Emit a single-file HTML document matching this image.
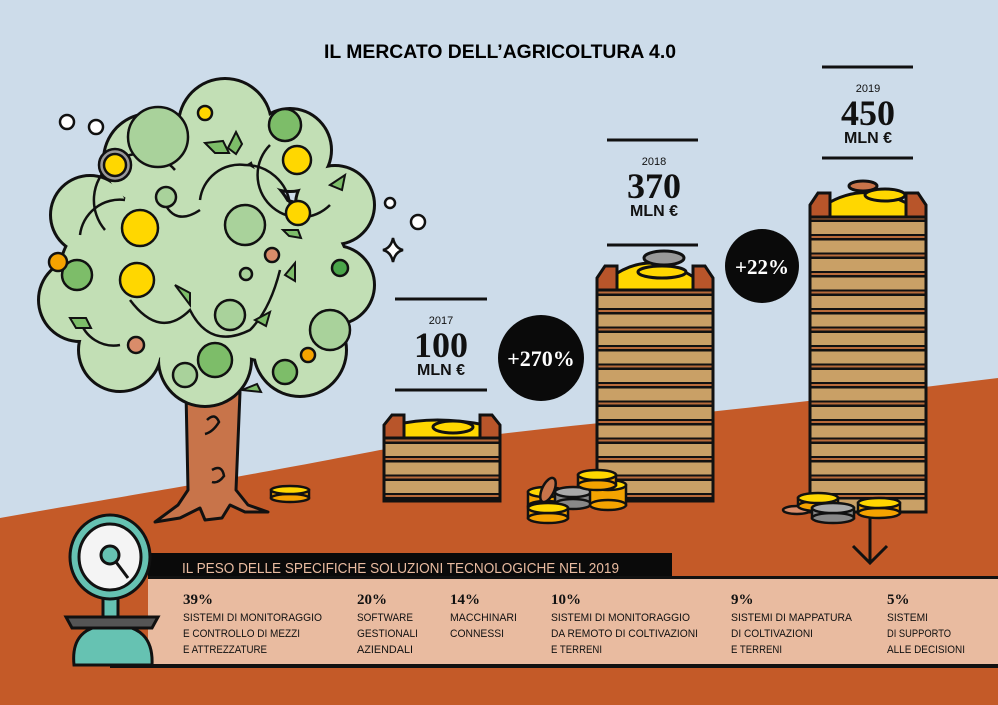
<!DOCTYPE html>
<html><head><meta charset="utf-8"><style>
html,body{margin:0;padding:0;background:#cddcea;}
svg{display:block}
text{font-family:"Liberation Sans",sans-serif}
.serif{font-family:"Liberation Serif",serif;font-weight:bold}
</style></head><body>
<svg width="998" height="705" viewBox="0 0 998 705" xmlns="http://www.w3.org/2000/svg">
<defs>
<pattern id="slat" x="0" y="0" width="20" height="18.5" patternUnits="userSpaceOnUse">
<rect width="20" height="18.5" fill="#111"/>
<rect y="0" width="20" height="12" fill="#c9a066"/>
<rect y="14" width="20" height="2" fill="#b86a3a"/>
</pattern>
</defs>
<rect width="998" height="705" fill="#cddcea"/>
<path d="M0,518 C100,500 200,485 380,450 C500,432 600,423 700,413 C820,400 900,390 998,378 L998,705 L0,705 Z" fill="#c45a28"/>

<text x="500" y="58" text-anchor="middle" font-weight="bold" font-size="19" textLength="352" lengthAdjust="spacingAndGlyphs">IL MERCATO DELL’AGRICOLTURA 4.0</text>

<path d="M186,392 L240,392 L236,490 L248,505 L268,512 L245,512 L230,505 L222,518 L205,520 L200,508 L180,518 L155,522 L178,505 L188,490 Z" fill="#c8744a" stroke="#111" stroke-width="3" stroke-linejoin="round"/>
<path d="M207,420 q8,-8 12,2 q-6,10 -14,12" fill="none" stroke="#111" stroke-width="2.5"/>
<path d="M212,470 q10,-6 12,6 q-6,8 -12,6" fill="none" stroke="#111" stroke-width="2.5"/>
<g stroke="#111" stroke-width="6" fill="#111">
<circle cx="225" cy="125" r="45"/><circle cx="150" cy="160" r="45"/><circle cx="290" cy="150" r="40"/>
<circle cx="335" cy="205" r="38"/><circle cx="90" cy="215" r="38"/><circle cx="80" cy="300" r="40"/>
<circle cx="120" cy="350" r="40"/><circle cx="205" cy="360" r="45"/><circle cx="300" cy="350" r="45"/>
<circle cx="335" cy="285" r="38"/><circle cx="205" cy="250" r="95"/><circle cx="270" cy="280" r="80"/><circle cx="140" cy="280" r="80"/>
</g>
<g fill="#c2dfb5">
<circle cx="225" cy="125" r="45"/><circle cx="150" cy="160" r="45"/><circle cx="290" cy="150" r="40"/>
<circle cx="335" cy="205" r="38"/><circle cx="90" cy="215" r="38"/><circle cx="80" cy="300" r="40"/>
<circle cx="120" cy="350" r="40"/><circle cx="205" cy="360" r="45"/><circle cx="300" cy="350" r="45"/>
<circle cx="335" cy="285" r="38"/><circle cx="205" cy="250" r="95"/><circle cx="270" cy="280" r="80"/><circle cx="140" cy="280" r="80"/>
</g>
<g fill="none" stroke="#111" stroke-width="2.5">
<path d="M80,235 a40,40 0 0 1 45,-35"/>
<path d="M105,230 a45,45 0 0 1 70,-60"/>
<path d="M200,200 a40,40 0 0 1 45,-35 a45,45 0 0 1 45,40"/>
<path d="M270,145 a40,40 0 0 0 60,60"/>
<path d="M130,300 q30,40 60,10 q20,40 60,20 q20,-20 30,-60"/>
<path d="M80,320 a35,35 0 0 0 40,25"/>
<path d="M160,190 q10,40 40,20"/>
</g>
<g stroke="#111" stroke-width="2.5">
<circle cx="158" cy="137" r="30" fill="#a9d29b"/>
<circle cx="285" cy="125" r="16" fill="#7dbd69"/>
<circle cx="245" cy="225" r="20" fill="#a9d29b"/>
<circle cx="166" cy="197" r="10" fill="#a9d29b"/>
<circle cx="77" cy="275" r="15" fill="#7dbd69"/>
<circle cx="230" cy="315" r="15" fill="#a9d29b"/>
<circle cx="215" cy="360" r="17" fill="#7dbd69"/>
<circle cx="185" cy="375" r="12" fill="#a9d29b"/>
<circle cx="285" cy="372" r="12" fill="#7dbd69"/>
<circle cx="330" cy="330" r="20" fill="#a9d29b"/>
<circle cx="340" cy="268" r="8" fill="#4aa54a"/>
<circle cx="58" cy="262" r="9" fill="#f5a300"/>
<circle cx="308" cy="355" r="7" fill="#f5a300"/>
<circle cx="272" cy="255" r="7" fill="#d98c6a"/>
<circle cx="136" cy="345" r="8" fill="#d98c6a"/>
<circle cx="115" cy="165" r="16" fill="#999"/><circle cx="115" cy="165" r="11" fill="#ffd700"/>
<circle cx="140" cy="228" r="18" fill="#ffd700"/>
<circle cx="137" cy="280" r="17" fill="#ffd700"/>
<circle cx="297" cy="160" r="14" fill="#ffd700"/>
<circle cx="298" cy="213" r="12" fill="#ffd700"/>
<circle cx="205" cy="113" r="7" fill="#ffd700"/>
<circle cx="246" cy="274" r="6" fill="#a9d29b"/>
</g>
<g fill="#7dbd69" stroke="#111" stroke-width="2">
<path d="M205,143 l18,-2 l6,12 l-14,0z"/><path d="M228,148 l8,-16 l6,12 l-6,10z"/>
<path d="M175,285 l15,8 l0,12 z"/><path d="M255,320 l15,-8 l-4,14z"/><path d="M285,275 l10,-12 l0,18z"/>
<path d="M70,318 l16,0 l5,10 l-15,0z"/><path d="M330,185 l15,-10 l-3,15z"/><path d="M242,390 l15,-6 l4,8z"/>
<path d="M283,230 l15,0 l3,8 l-12,-2z"/>
</g>
<circle cx="67" cy="122" r="7" fill="#fff" stroke="#111" stroke-width="2.5"/>
<circle cx="96" cy="127" r="7" fill="#fff" stroke="#111" stroke-width="2.5"/>
<circle cx="390" cy="203" r="5" fill="#fff" stroke="#111" stroke-width="2.5"/>
<circle cx="418" cy="222" r="7" fill="#fff" stroke="#111" stroke-width="2.5"/>
<path d="M393,238 q2,10 10,12 q-8,2 -10,12 q-2,-10 -10,-12 q8,-2 10,-12z" fill="#fff" stroke="#111" stroke-width="2.5"/>
<g stroke="#111" stroke-width="2.5"><rect x="271" y="490" width="38" height="8" fill="#f5a300"/><ellipse cx="290" cy="498" rx="19" ry="4" fill="#f5a300"/><ellipse cx="290" cy="490" rx="19" ry="4" fill="#ffd700"/></g>

<g stroke="#111" stroke-width="3">
<line x1="395" y1="299" x2="487" y2="299"/><line x1="395" y1="390" x2="487" y2="390"/>
<line x1="607" y1="140" x2="698" y2="140"/><line x1="607" y1="245" x2="698" y2="245"/>
<line x1="822" y1="67" x2="913" y2="67"/><line x1="822" y1="158" x2="913" y2="158"/>
</g>
<g text-anchor="middle" fill="#111">
<text x="441" y="324" font-size="11">2017</text>
<text x="441" y="357" font-size="36" class="serif">100</text>
<text x="441" y="375" font-size="16" font-weight="bold">MLN €</text>
<text x="654" y="165" font-size="11">2018</text>
<text x="654" y="198" font-size="36" class="serif">370</text>
<text x="654" y="216" font-size="16" font-weight="bold">MLN €</text>
<text x="868" y="92" font-size="11">2019</text>
<text x="868" y="125" font-size="36" class="serif">450</text>
<text x="868" y="143" font-size="16" font-weight="bold">MLN €</text>
</g>
<circle cx="541" cy="358" r="43" fill="#0a0a0a"/>
<text x="541" y="366" text-anchor="middle" fill="#fff" font-size="22" class="serif">+270%</text>
<circle cx="762" cy="266" r="37" fill="#0a0a0a"/>
<text x="762" y="274" text-anchor="middle" fill="#fff" font-size="21" class="serif">+22%</text>

<g stroke="#111" stroke-width="3">
<path d="M395,425 q40,-10 90,0 l0,20 l-90,0z" fill="#ffd700"/>
<ellipse cx="453" cy="427" rx="20" ry="6" fill="#ffd700"/>
<path d="M384,425 l8,-10 l12,0 l0,25 l-20,0z" fill="#b8552a"/>
<path d="M500,425 l-8,-10 l-12,0 l0,25 l20,0z" fill="#b8552a"/>
<rect x="384" y="438" width="116" height="63" fill="url(#slat)"/>
<path d="M610,278 q40,-30 85,0 l0,15 l-85,0z" fill="#ffd700"/>
<ellipse cx="664" cy="258" rx="20" ry="7" fill="#999"/>
<ellipse cx="662" cy="272" rx="24" ry="6" fill="#ffd700"/>
<path d="M597,278 l8,-12 l12,0 l0,25 l-20,0z" fill="#b8552a"/>
<path d="M713,278 l-8,-12 l-12,0 l0,25 l20,0z" fill="#b8552a"/>
<rect x="597" y="290" width="116" height="211" fill="url(#slat)"/>
<path d="M825,205 q40,-25 85,0 l0,15 l-85,0z" fill="#ffd700"/>
<ellipse cx="863" cy="186" rx="14" ry="5" fill="#c8744a"/>
<ellipse cx="885" cy="195" rx="20" ry="6" fill="#ffd700"/>
<path d="M810,205 l8,-12 l12,0 l0,25 l-20,0z" fill="#b8552a"/>
<path d="M926,205 l-8,-12 l-12,0 l0,25 l20,0z" fill="#b8552a"/>
<rect x="810" y="217" width="116" height="295" fill="url(#slat)"/>
</g>
<g stroke="#111" stroke-width="2.5">
<rect x="528" y="492" width="36" height="14" fill="#f5a300"/><ellipse cx="546" cy="506" rx="18" ry="5" fill="#f5a300"/><ellipse cx="546" cy="492" rx="18" ry="5" fill="#ffd700"/>
<rect x="555" y="492" width="36" height="12" fill="#888"/><ellipse cx="573" cy="504" rx="18" ry="5" fill="#888"/><ellipse cx="573" cy="492" rx="18" ry="5" fill="#aaa"/>
<rect x="590" y="485" width="36" height="20" fill="#f5a300"/><ellipse cx="608" cy="505" rx="18" ry="5" fill="#f5a300"/><ellipse cx="608" cy="485" rx="18" ry="5" fill="#ffd700"/>
<rect x="578" y="475" width="38" height="10" fill="#f5a300"/><ellipse cx="597" cy="485" rx="19" ry="5" fill="#f5a300"/><ellipse cx="597" cy="475" rx="19" ry="5" fill="#ffd700"/>
<ellipse cx="548" cy="490" rx="6" ry="13" fill="#c8744a" transform="rotate(25 548 490)"/>
<rect x="528" y="508" width="40" height="10" fill="#f5a300"/><ellipse cx="548" cy="518" rx="20" ry="5" fill="#f5a300"/><ellipse cx="548" cy="508" rx="20" ry="5" fill="#ffd700"/>
<ellipse cx="797" cy="510" rx="14" ry="4" fill="#d98c6a"/>
<rect x="798" y="498" width="40" height="8" fill="#f5a300"/><ellipse cx="818" cy="506" rx="20" ry="5" fill="#f5a300"/><ellipse cx="818" cy="498" rx="20" ry="5" fill="#ffd700"/>
<rect x="812" y="508" width="42" height="10" fill="#888"/><ellipse cx="833" cy="518" rx="21" ry="5" fill="#888"/><ellipse cx="833" cy="508" rx="21" ry="5" fill="#aaa"/>
<rect x="858" y="503" width="42" height="10" fill="#f5a300"/><ellipse cx="879" cy="513" rx="21" ry="5" fill="#f5a300"/><ellipse cx="879" cy="503" rx="21" ry="5" fill="#ffd700"/>
</g>
<g stroke="#111" stroke-width="3" fill="none"><line x1="870" y1="518" x2="870" y2="563"/><path d="M853,546 L870,563 L887,546"/></g>

<rect x="148" y="578" width="850" height="88" fill="#e9bba0"/>
<rect x="110" y="664" width="888" height="4" fill="#111"/>
<rect x="148" y="553" width="524" height="26" fill="#0a0a0a"/>
<rect x="148" y="576" width="850" height="3" fill="#111"/>
<text x="182" y="573" fill="#e9bba0" font-size="15" textLength="437" lengthAdjust="spacingAndGlyphs">IL PESO DELLE SPECIFICHE SOLUZIONI TECNOLOGICHE NEL 2019</text>
<g fill="#111" font-size="11">
<text x="183" y="604" font-size="15" class="serif" font-weight="normal">39%</text>
<text x="183" y="621" textLength="139" lengthAdjust="spacingAndGlyphs">SISTEMI DI MONITORAGGIO</text>
<text x="183" y="637" textLength="117" lengthAdjust="spacingAndGlyphs">E CONTROLLO DI MEZZI</text>
<text x="183" y="653" textLength="84" lengthAdjust="spacingAndGlyphs">E ATTREZZATURE</text>
<text x="357" y="604" font-size="15" class="serif" font-weight="normal">20%</text>
<text x="357" y="621" textLength="56" lengthAdjust="spacingAndGlyphs">SOFTWARE</text>
<text x="357" y="637" textLength="61" lengthAdjust="spacingAndGlyphs">GESTIONALI</text>
<text x="357" y="653" textLength="56" lengthAdjust="spacingAndGlyphs">AZIENDALI</text>
<text x="450" y="604" font-size="15" class="serif" font-weight="normal">14%</text>
<text x="450" y="621" textLength="67" lengthAdjust="spacingAndGlyphs">MACCHINARI</text>
<text x="450" y="637" textLength="54" lengthAdjust="spacingAndGlyphs">CONNESSI</text>
<text x="551" y="604" font-size="15" class="serif" font-weight="normal">10%</text>
<text x="551" y="621" textLength="139" lengthAdjust="spacingAndGlyphs">SISTEMI DI MONITORAGGIO</text>
<text x="551" y="637" textLength="147" lengthAdjust="spacingAndGlyphs">DA REMOTO DI COLTIVAZIONI</text>
<text x="551" y="653" textLength="51" lengthAdjust="spacingAndGlyphs">E TERRENI</text>
<text x="731" y="604" font-size="15" class="serif" font-weight="normal">9%</text>
<text x="731" y="621" textLength="121" lengthAdjust="spacingAndGlyphs">SISTEMI DI MAPPATURA</text>
<text x="731" y="637" textLength="82" lengthAdjust="spacingAndGlyphs">DI COLTIVAZIONI</text>
<text x="731" y="653" textLength="51" lengthAdjust="spacingAndGlyphs">E TERRENI</text>
<text x="887" y="604" font-size="15" class="serif" font-weight="normal">5%</text>
<text x="887" y="621" textLength="41" lengthAdjust="spacingAndGlyphs">SISTEMI</text>
<text x="887" y="637" textLength="64" lengthAdjust="spacingAndGlyphs">DI SUPPORTO</text>
<text x="887" y="653" textLength="78" lengthAdjust="spacingAndGlyphs">ALLE DECISIONI</text>
</g>
<g stroke="#111" stroke-width="3">
<path d="M74,665 Q70,625 112,625 Q154,625 152,665 Z" fill="#66c2b2"/>
<rect x="103" y="596" width="15" height="26" fill="#66c2b2"/>
<path d="M66,617 L158,617 L152,628 L72,628 Z" fill="#555"/>
<ellipse cx="110" cy="557" rx="40" ry="42" fill="#66c2b2"/>
<ellipse cx="110" cy="557" rx="31" ry="33" fill="#f4f4f4"/>
<circle cx="110" cy="555" r="9" fill="#66c2b2"/>
<line x1="116" y1="562" x2="128" y2="578"/>
</g>
</svg>
</body></html>
